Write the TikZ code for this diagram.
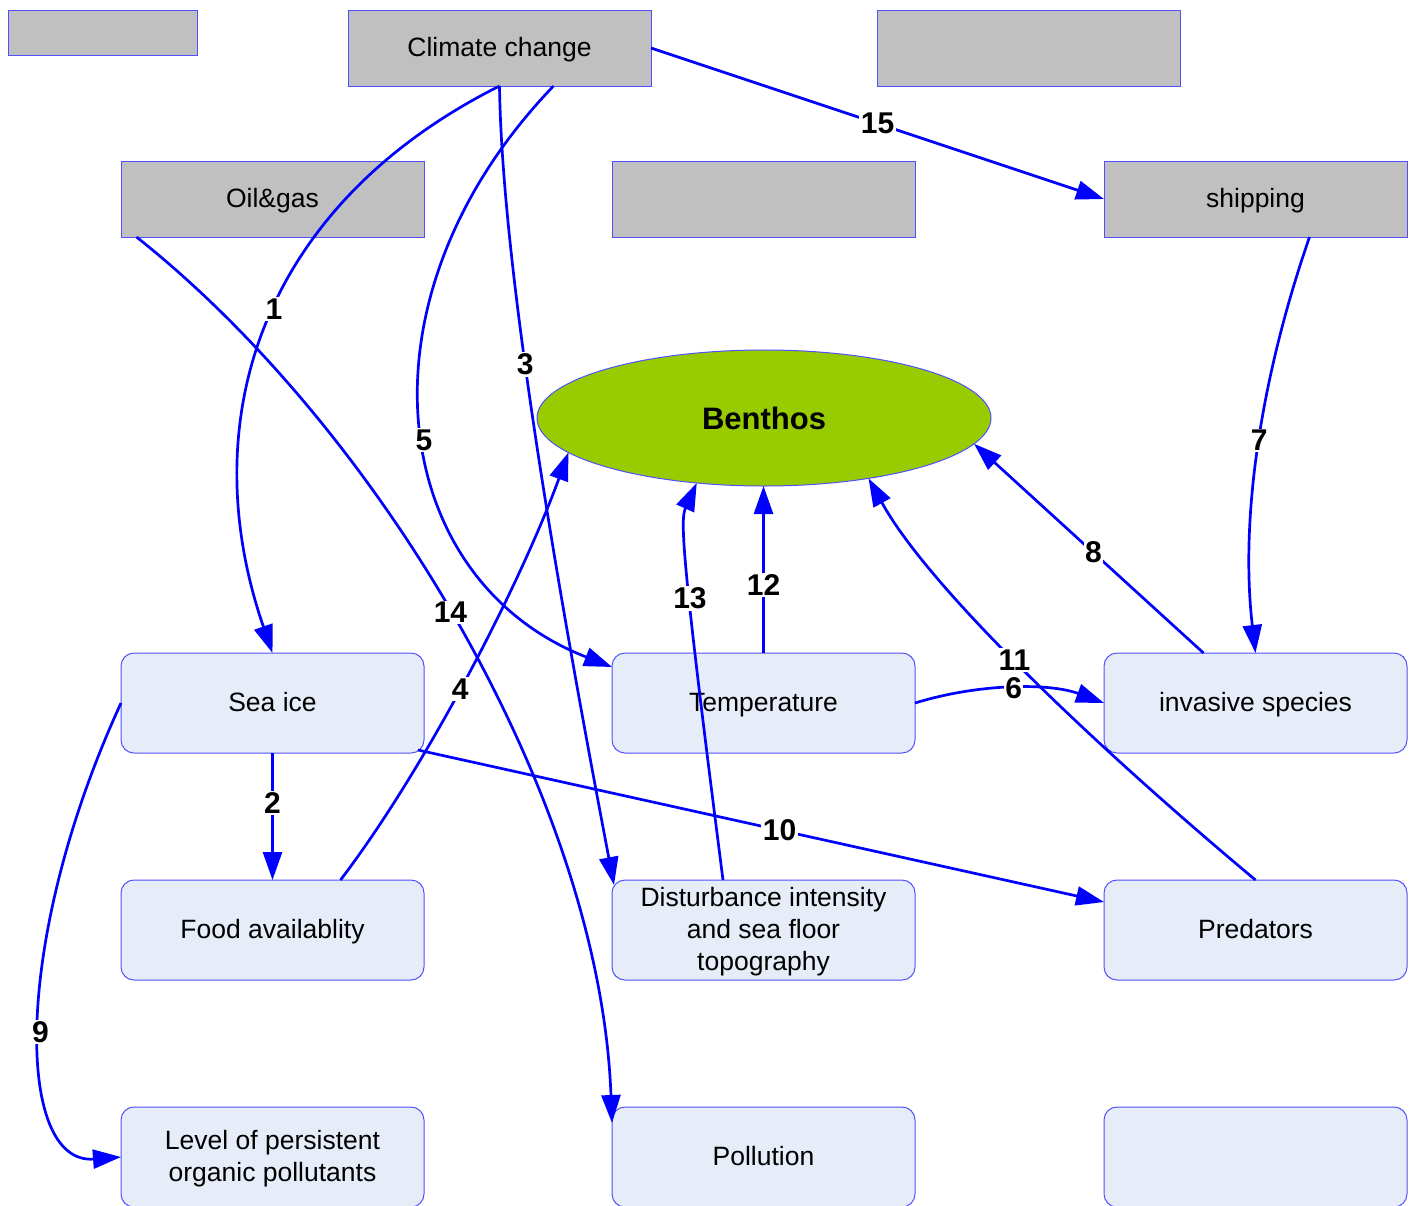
\documentclass[tikz,border=0pt]{standalone}
\usepackage{fontspec}
\setmainfont{Liberation Sans}
\usetikzlibrary{shapes.geometric,arrows.meta,calc}

\definecolor{linkblue}{RGB}{0,0,255}
\definecolor{edgeblue}{RGB}{80,80,255}
\definecolor{boxfill}{RGB}{230,236,248}
\definecolor{greybox}{RGB}{192,192,192}
\definecolor{benthosgreen}{RGB}{153,204,0}

\newcommand\diagboxfont{\fontsize{26.5}{32}\selectfont}
\newcommand\linknumfont{\fontsize{30}{34}\selectfont\bfseries}

\tikzset{
  driver/.style={rectangle, draw=edgeblue, line width=1pt, fill=greybox,
    minimum width=303pt, minimum height=76pt, inner sep=0pt, outer sep=0pt,
    font=\diagboxfont, align=center, oneline},
  factor/.style={rectangle, rounded corners=13pt, draw=edgeblue, line width=1pt,
    fill=boxfill, minimum width=303pt, minimum height=100pt, inner sep=0pt,
    outer sep=0pt, font=\diagboxfont, align=center, oneline},
  oneline/.style={text height=20pt, text depth=3pt},
  twolines/.style={text height=52pt, text depth=3pt},
  threelines/.style={text height=84pt, text depth=3pt},
  link/.style={draw=linkblue, line width=2.7pt,
    -{Triangle[length=28pt,width=19pt]}},
  num/.style={fill=white, font=\linknumfont, inner sep=1.5pt, text=black},
}

\begin{document}
\begin{tikzpicture}[x=1pt,y=-1pt]
\useasboundingbox (0,0) rectangle (1412,1205);
\clip (0,0) rectangle (1412,1205);

% drivers (top two rows)
\node[driver, minimum width=189pt, minimum height=45pt] (blankA) at (102.5,32.5) {};
\node[driver] (clim) at (499.5,48) {Climate change};
\node[driver] (blankB) at (1028.5,48) {};
\node[driver] (oil) at (272.5,199) {Oil\&gas};
\node[driver] (blankC) at (763.5,199) {};
\node[driver] (ship) at (1255.5,199) {shipping};

% central component
\node[ellipse, draw=edgeblue, line width=1pt, fill=benthosgreen,
  minimum width=454pt, minimum height=136pt, inner sep=0pt, outer sep=0pt,
  font=\fontsize{31}{36}\selectfont\bfseries] (benthos) at (764,418) {Benthos};

% factors
\node[factor] (seaice) at (272.5,703) {Sea ice};
\node[factor] (temp) at (763.5,703) {Temperature};
\node[factor] (inv) at (1255.5,703) {invasive species};
\node[factor] (food) at (272.5,930) {Food availablity};
\node[factor, threelines] (dist) at (763.5,930) {Disturbance intensity\\and sea floor\\topography};
\node[factor] (pred) at (1255.5,930) {Predators};
\node[factor, twolines] (lev) at (272.5,1157) {Level of persistent\\organic pollutants};
\node[factor] (poll) at (763.5,1157) {Pollution};
\node[factor] (blankD) at (1255.5,1157) {};

% links
\draw[link] (clim.south) .. controls (262,205) and (192,420) .. (seaice.north)
  node[num,pos=0.47] (n1) {1};
\draw[link] (seaice.south) -- (food.north) node[num,pos=0.39] (n2) {2};
\draw[link] (clim.south) .. controls (502,260) and (552,560) ..
  ([xshift=2pt,yshift=-5pt]dist.north west) node[num,pos=0.42] (n3) {3};
\draw[link] ([xshift=68pt]food.north) .. controls (428,765) and (522,580) ..
  (benthos.190) node[num,pos=0.46] (n4) {4};
\draw[link] ([xshift=54pt]clim.south) .. controls (348,300) and (388,580) ..
  ([yshift=-14pt]temp.north west) node[num,pos=0.525] (n5) {5};
\draw[link] (temp.east) .. controls (980,683) and (1050,683) .. (inv.west)
  node[num,pos=0.5] (n6) {6};
\draw[link] ([xshift=54pt]ship.south) .. controls (1260,380) and (1240,520) ..
  (inv.north) node[num,pos=0.48] (n7) {7};
\draw[link] ([xshift=-52pt]inv.north) -- (benthos.-7) node[num,pos=0.48] (n8) {8};
\draw[link] (seaice.west) .. controls (12,940) and (15,1165) .. (lev.west)
  node[num,pos=0.52] (n9) {9};
\draw[link] ([xshift=-6pt,yshift=3pt]seaice.south east) --
  ([yshift=-22pt]pred.north west) node[num,pos=0.527] (n10) {10};
\draw[link] (pred.north) .. controls (1100,750) and (930,590) .. (benthos.-30)
  node[num,pos=0.53] (n11) {11};
\draw[link] (temp.north) -- (temp.north |- benthos.south) node[num,pos=0.41] (n12) {12};
\draw[link] ([xshift=-40.5pt]dist.north) .. controls (682,560) and (680,520) ..
  (benthos.224) node[num,pos=0.435] (n13) {13};
\draw[link] ([xshift=-136pt]oil.south) .. controls (380,430) and (600,800) ..
  ([yshift=-16pt]poll.north west) node[num,pos=0.48] (n14) {14};
\draw[link] (clim.east) -- (ship.west) node[num,pos=0.5] (n15) {15};
\end{tikzpicture}
\end{document}
